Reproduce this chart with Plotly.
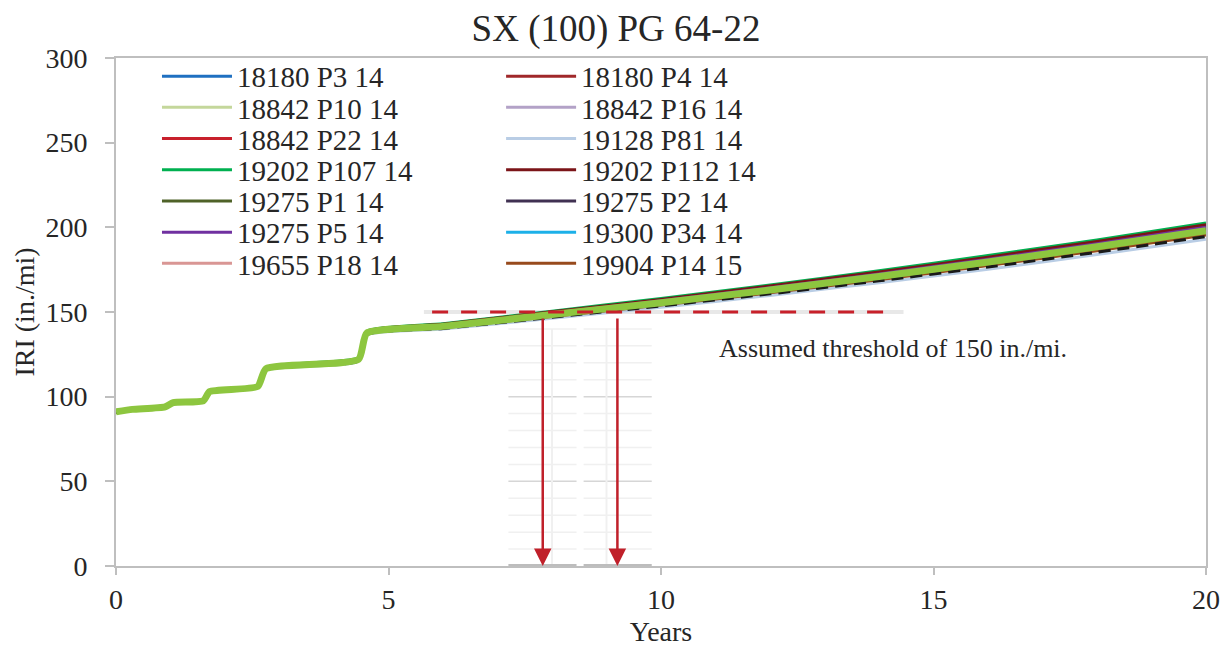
import plotly.graph_objects as go

YEARS = [0, 0.3, 0.9, 1.05, 1.6, 1.72, 2.6, 2.75, 4.45, 4.6, 6, 8, 10, 12, 14, 16, 18, 20]

SERIES_NAMES = ["18180 P3 14", "18180 P4 14", "18842 P10 14", "18842 P16 14",
                "18842 P22 14", "19128 P81 14", "19202 P107 14", "19202 P112 14",
                "19275 P1 14", "19275 P2 14", "19275 P5 14", "19300 P34 14",
                "19655 P18 14", "19904 P14 15"]

IRI_18180_P3 = [91.0, 92.4, 93.9, 96.4, 97.4, 102.9, 105.8, 116.3, 121.8, 137.2, 141.2, 148.0, 155.0, 162.4, 170.2, 178.7, 187.6, 197.0]
IRI_18180_P4 = [91.2, 92.7, 94.2, 96.8, 97.8, 103.4, 106.5, 117.0, 122.7, 138.3, 142.5, 149.9, 157.2, 165.0, 173.3, 182.0, 191.3, 201.0]
IRI_18842_P10 = [91.0, 92.5, 94.0, 96.5, 97.5, 102.9, 105.9, 116.4, 121.9, 137.4, 141.3, 148.3, 155.2, 162.7, 170.6, 179.1, 188.0, 197.5]
IRI_18842_P16 = [91.0, 92.5, 94.0, 96.6, 97.6, 103.1, 106.1, 116.6, 122.1, 137.6, 141.7, 148.7, 155.8, 163.3, 171.4, 179.9, 189.0, 198.5]
IRI_18842_P22 = [91.1, 92.6, 94.1, 96.6, 97.6, 103.1, 106.2, 116.7, 122.2, 137.8, 141.8, 149.0, 156.1, 163.7, 171.8, 180.3, 189.4, 199.0]
IRI_19128_P81 = [90.8, 92.3, 93.6, 96.0, 97.0, 102.4, 105.3, 115.6, 120.9, 136.3, 139.9, 146.3, 152.8, 159.8, 167.3, 175.3, 183.9, 193.0]
IRI_19202_P107 = [91.2, 92.7, 94.4, 97.0, 98.0, 103.5, 106.7, 117.3, 123.0, 138.6, 143.0, 150.5, 158.0, 165.9, 174.4, 183.3, 192.6, 202.5]
IRI_19202_P112 = [91.2, 92.7, 94.3, 96.9, 97.9, 103.4, 106.5, 117.1, 122.8, 138.4, 142.7, 150.1, 157.4, 165.3, 173.6, 182.4, 191.7, 201.5]
IRI_19275_P1 = [91.0, 92.5, 94.1, 96.5, 97.6, 103.0, 106.1, 116.6, 122.1, 137.6, 141.6, 148.7, 155.8, 163.4, 171.3, 180.0, 188.9, 198.5]
IRI_19275_P2 = [90.9, 92.4, 93.9, 96.4, 97.4, 102.8, 105.8, 116.2, 121.7, 137.1, 141.0, 147.8, 154.7, 162.0, 169.9, 178.2, 187.1, 196.5]
IRI_19275_P5 = [91.1, 92.6, 94.2, 96.7, 97.7, 103.2, 106.3, 116.9, 122.4, 138.0, 142.2, 149.4, 156.6, 164.3, 172.5, 181.2, 190.3, 200.0]
IRI_19300_P34 = [90.9, 92.4, 93.8, 96.3, 97.3, 102.8, 105.7, 116.1, 121.6, 137.0, 140.8, 147.6, 154.4, 161.7, 169.5, 177.8, 186.7, 196.0]
IRI_19655_P18 = [91.0, 92.4, 93.9, 96.4, 97.4, 102.9, 105.9, 116.3, 121.8, 137.3, 141.2, 148.1, 154.9, 162.4, 170.3, 178.7, 187.6, 197.0]
IRI_19904_P14 = [90.9, 92.4, 93.8, 96.3, 97.3, 102.7, 105.6, 116.1, 121.5, 136.9, 140.7, 147.4, 154.1, 161.4, 169.1, 177.4, 186.2, 195.5]
IRI_AVERAGE = [91.0, 92.5, 94.0, 96.5, 97.5, 103.0, 106.0, 116.5, 122.0, 137.5, 141.5, 148.5, 155.5, 163.0, 171.0, 179.5, 188.5, 198.0]
IRI_LOWER = [90.8, 92.3, 93.7, 96.2, 97.2, 102.6, 105.5, 115.9, 121.2, 136.6, 140.3, 146.9, 153.6, 160.7, 168.4, 176.6, 185.3, 194.5]

SERIES_VALUES = [IRI_18180_P3, IRI_18180_P4, IRI_18842_P10, IRI_18842_P16, IRI_18842_P22,
                 IRI_19128_P81, IRI_19202_P107, IRI_19202_P112, IRI_19275_P1, IRI_19275_P2,
                 IRI_19275_P5, IRI_19300_P34, IRI_19655_P18, IRI_19904_P14]

SERIES_COLORS = ["#1F70C1", "#A0282A", "#C4D79B", "#B3A2C7", "#C8202C", "#B9CDE5",
                 "#00B050", "#7B1418", "#4F6228", "#403152", "#7030A0", "#1CB0E8",
                 "#D99694", "#974A1C"]

THRESHOLD = 150
THRESHOLD_SPAN = [5.8, 14.3]
CROSSING_YEARS = [7.83, 9.2]
GHOST_SPANS = [[7.2, 8.45], [8.58, 9.83]]
GHOST_LEVELS = [10, 20, 30, 40, 50, 60, 70, 80, 90, 100, 110, 120, 130, 140]

X_TICKS = [0, 5, 10, 15, 20]
Y_TICKS = [0, 50, 100, 150, 200, 250, 300]

FONT = "Liberation Serif"
TXT = "#262626"

fig = go.Figure()

# soft shadow of threshold line
fig.add_trace(go.Scatter(x=[THRESHOLD_SPAN[0] - 0.15, THRESHOLD_SPAN[1] + 0.15], y=[THRESHOLD, THRESHOLD],
                         mode="lines", line=dict(color="rgba(205,205,205,0.45)", width=4),
                         showlegend=False, hoverinfo="skip"))

rows_y = [0.9640, 0.9026, 0.8412, 0.7797, 0.7183, 0.6569, 0.5955]
col_x = [0.0376, 0.3533]

legend_layouts = {}
for i, (name, vals, col) in enumerate(zip(SERIES_NAMES, SERIES_VALUES, SERIES_COLORS)):
    lname = "legend" if i == 0 else f"legend{i + 1}"
    fig.add_trace(go.Scatter(x=YEARS, y=vals, name=name, mode="lines",
                             line=dict(color=col, width=3, shape="spline", smoothing=0.5),
                             legend=lname))
    legend_layouts[lname] = dict(
        x=col_x[i % 2], y=rows_y[i // 2], xanchor="left", yanchor="middle",
        bgcolor="rgba(0,0,0,0)", borderwidth=0, itemwidth=70,
        font=dict(family=FONT, size=29, color=TXT))

fig.add_trace(go.Scatter(x=YEARS, y=IRI_LOWER, mode="lines", showlegend=False,
                         line=dict(color="#1A1A1A", width=3, dash="12px,7px", shape="spline", smoothing=0.5)))
fig.add_trace(go.Scatter(x=YEARS, y=IRI_AVERAGE, mode="lines", showlegend=False,
                         line=dict(color="#8DC63F", width=7, shape="spline", smoothing=0.5)))

# threshold dashed line
fig.add_trace(go.Scatter(x=THRESHOLD_SPAN, y=[THRESHOLD, THRESHOLD], mode="lines",
                         line=dict(color="#C8202A", width=3, dash="16px,13px"),
                         showlegend=False, hoverinfo="skip"))

shapes = []
for span in GHOST_SPANS:
    for lv in GHOST_LEVELS:
        shapes.append(dict(type="line", xref="x", yref="y", x0=span[0], x1=span[1], y0=lv, y1=lv,
                           line=dict(color="#D6D6D6" if lv % 50 == 0 else "#F0F0F0", width=1.5),
                           layer="below"))
    shapes.append(dict(type="line", xref="x", yref="y", x0=span[0], x1=span[1], y0=0, y1=0,
                       line=dict(color="#BDBDBD", width=4), layer="above"))
for cx in [8, 9]:
    shapes.append(dict(type="line", xref="x", yref="y", x0=cx, x1=cx, y0=0, y1=140,
                       line=dict(color="#F0F0F0", width=2), layer="below"))

annotations = [dict(x=11.03, y=128.4, xref="x", yref="y", text="Assumed threshold of 150 in./mi.",
                    showarrow=False, xanchor="left", yanchor="middle",
                    font=dict(family=FONT, size=26, color=TXT))]
for cy in CROSSING_YEARS:
    annotations.append(dict(x=cy, y=0, ax=cy, ay=THRESHOLD - 3, xref="x", yref="y",
                            axref="x", ayref="y", text="", showarrow=True, arrowhead=2,
                            arrowsize=1.4, arrowwidth=2.5, arrowcolor="#C0202A", standoff=0))

axis_common = dict(showline=True, linecolor="#BFBFBF", linewidth=2, mirror=True,
                   ticks="outside", tickwidth=2, tickcolor="#BFBFBF",
                   showgrid=False, zeroline=False, automargin=False,
                   tickfont=dict(family=FONT, size=28, color=TXT))

fig.update_layout(
    width=1216, height=639,
    margin=dict(l=108, r=18, t=50, b=81),
    font=dict(family=FONT, color=TXT),
    paper_bgcolor="white", plot_bgcolor="white",
    title=dict(text="SX (100) PG 64-22", x=0.5, xref="container", xanchor="center",
               y=1 - 20 / 639, yref="container", yanchor="middle",
               font=dict(family=FONT, size=37, color=TXT)),
    xaxis=dict(range=[0, 20], tickvals=X_TICKS, ticklen=7, ticklabelstandoff=0,
               title=dict(text="Years", font=dict(family=FONT, size=28, color=TXT), standoff=19),
               **axis_common),
    yaxis=dict(range=[0, 300], tickvals=Y_TICKS, ticklen=9, ticklabelstandoff=12,
               title=dict(text="IRI (in./mi)", font=dict(family=FONT, size=28, color=TXT), standoff=3),
               **axis_common),
    shapes=shapes,
    annotations=annotations,
    **legend_layouts,
)

fig.write_html("out.html")
